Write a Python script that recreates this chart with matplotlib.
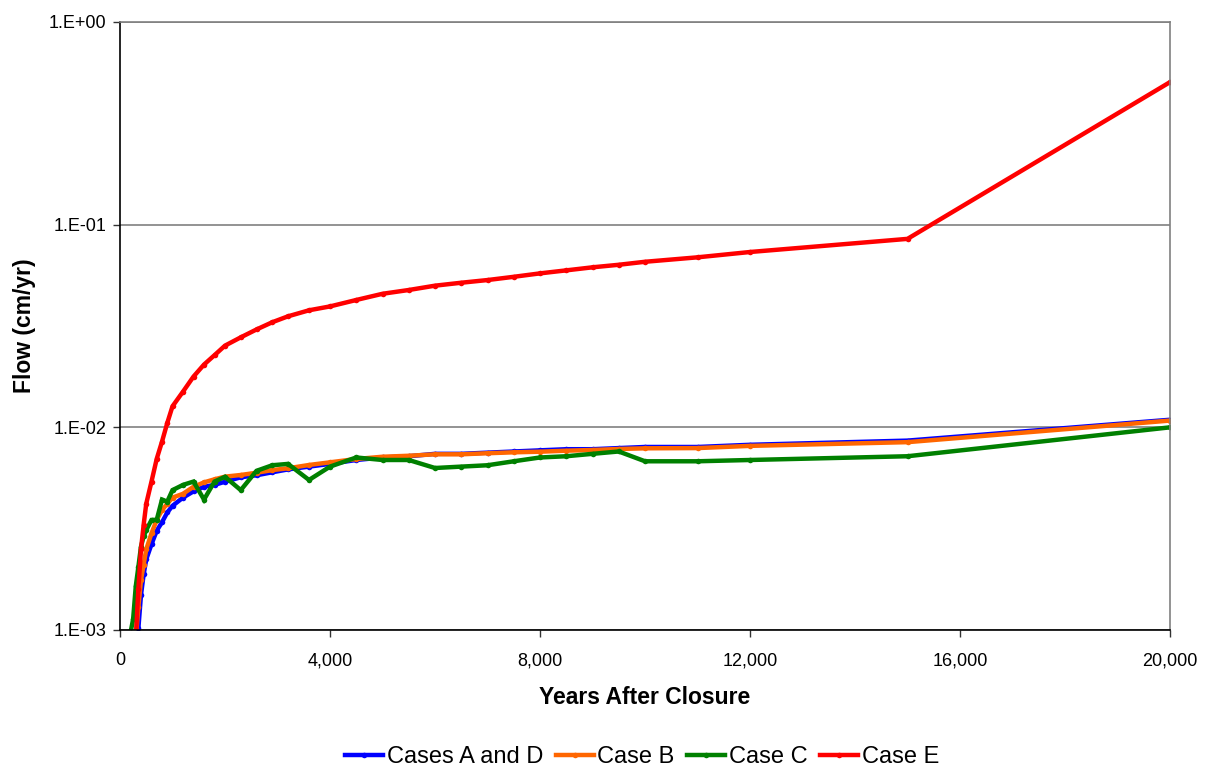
import matplotlib
matplotlib.use("Agg")
import matplotlib.pyplot as plt
from matplotlib.ticker import FixedLocator, FuncFormatter

plt.rcParams['font.family'] = ['Liberation Sans', 'DejaVu Sans']

# years after closure
years = [200, 250, 300, 350, 400, 450, 500, 600, 700, 800, 900, 1000, 1200, 1400,
         1600, 1800, 2000, 2300, 2600, 2900, 3200, 3600, 4000, 4500, 5000, 5500,
         6000, 6500, 7000, 7500, 8000, 8500, 9000, 9500, 10000, 11000, 12000,
         15000, 20000]

# flow (cm/yr)
cases_ad = [0.0004, 0.0005, 0.0007, 0.00102, 0.00149, 0.00188, 0.00223, 0.00265,
            0.00309, 0.0034, 0.0038, 0.0041, 0.0045, 0.00483, 0.00509, 0.0052,
            0.00539, 0.00567, 0.0058, 0.0060, 0.0062, 0.0064, 0.0066, 0.0069,
            0.0071, 0.0072, 0.0074, 0.0074, 0.0075, 0.0076, 0.0077, 0.0078,
            0.0078, 0.0079, 0.0080, 0.0080, 0.0082, 0.0086, 0.0109]
case_b = [0.0005, 0.0006, 0.0009, 0.0013, 0.00176, 0.0021, 0.0025, 0.0030,
          0.0035, 0.0039, 0.0042, 0.0045, 0.0047, 0.00509, 0.00535, 0.00554,
          0.00571, 0.00582, 0.00597, 0.00615, 0.00628, 0.00652, 0.00672, 0.00698,
          0.00716, 0.00724, 0.00736, 0.00736, 0.00745, 0.00753, 0.00758, 0.00767,
          0.00773, 0.00782, 0.00788, 0.0079, 0.0081, 0.00845, 0.0108]
case_c = [0.00097, 0.00113, 0.00164, 0.00205, 0.00258, 0.0029, 0.00311, 0.00349,
          0.0035, 0.0044, 0.0043, 0.0049, 0.0052, 0.0054, 0.0044, 0.0054, 0.0057,
          0.0049, 0.0061, 0.0065, 0.0066, 0.0055, 0.0064, 0.0071, 0.0069, 0.0069,
          0.0063, 0.0064, 0.0065, 0.0068, 0.0071, 0.0072, 0.0074, 0.0076, 0.0068,
          0.0068, 0.0069, 0.0072, 0.0100]
case_e = [0.0003, 0.0005, 0.0009, 0.0016, 0.0025, 0.0033, 0.0042, 0.0054, 0.0070,
          0.0085, 0.0105, 0.0127, 0.0150, 0.0178, 0.0204, 0.0227, 0.0253, 0.0278,
          0.0304, 0.0330, 0.0353, 0.0378, 0.0395, 0.0425, 0.0456, 0.0476, 0.0500,
          0.0517, 0.0533, 0.0553, 0.0575, 0.0595, 0.0616, 0.0634, 0.0656, 0.0690,
          0.0733, 0.0851, 0.505]

series = [("Cases A and D", cases_ad, "#0000FF"),
          ("Case B", case_b, "#FF6600"),
          ("Case C", case_c, "#008000"),
          ("Case E", case_e, "#FF0000")]

fig = plt.figure(figsize=(12.07, 7.68), dpi=100)
ax = fig.add_axes([120/1207, 1 - 630/768, 1050/1207, 608/768])

for name, vals, col in series:
    ax.plot(years, vals, color=col, lw=3.2, marker='o', ms=4,
            markeredgewidth=0, label=name, solid_joinstyle='miter')

ax.set_yscale('log')
ax.set_ylim(1e-3, 1)
ax.set_xlim(0, 20000)
ax.xaxis.set_major_locator(FixedLocator([0, 4000, 8000, 12000, 16000, 20000]))
ax.xaxis.set_major_formatter(FuncFormatter(lambda v, p: f"{int(v):,}"))
ax.yaxis.set_major_locator(FixedLocator([1e-3, 1e-2, 1e-1, 1]))
ax.yaxis.set_minor_locator(FixedLocator([]))
ax.yaxis.set_major_formatter(FuncFormatter(
    lambda v, p: {1e-3: "1.E-03", 1e-2: "1.E-02", 1e-1: "1.E-01", 1: "1.E+00"}.get(round(v, 6), "")))

ax.grid(axis='y', color='#808080', lw=1.2)
ax.set_axisbelow(True)
ax.tick_params(axis='both', labelsize=13, length=5, width=1, color='#333333', direction='out')
ax.tick_params(axis='y', pad=5)
ax.tick_params(axis='x', pad=11)

for s in ['left', 'bottom']:
    ax.spines[s].set_color('#000000')
    ax.spines[s].set_linewidth(1.2)
for s in ['top', 'right']:
    ax.spines[s].set_color('#808080')
    ax.spines[s].set_linewidth(1.2)

ax.set_xlabel("Years After Closure", fontsize=16.5, fontweight='bold', labelpad=12)
ax.set_ylabel("Flow (cm/yr)", fontsize=16.5, fontweight='bold', labelpad=9)

fig.legend(loc='center', bbox_to_anchor=(0.532, 1 - 757/768), ncol=4, frameon=False,
           fontsize=17, handlelength=1.6, handletextpad=0.15, columnspacing=0.55)

fig.savefig("out.png", dpi=100)
